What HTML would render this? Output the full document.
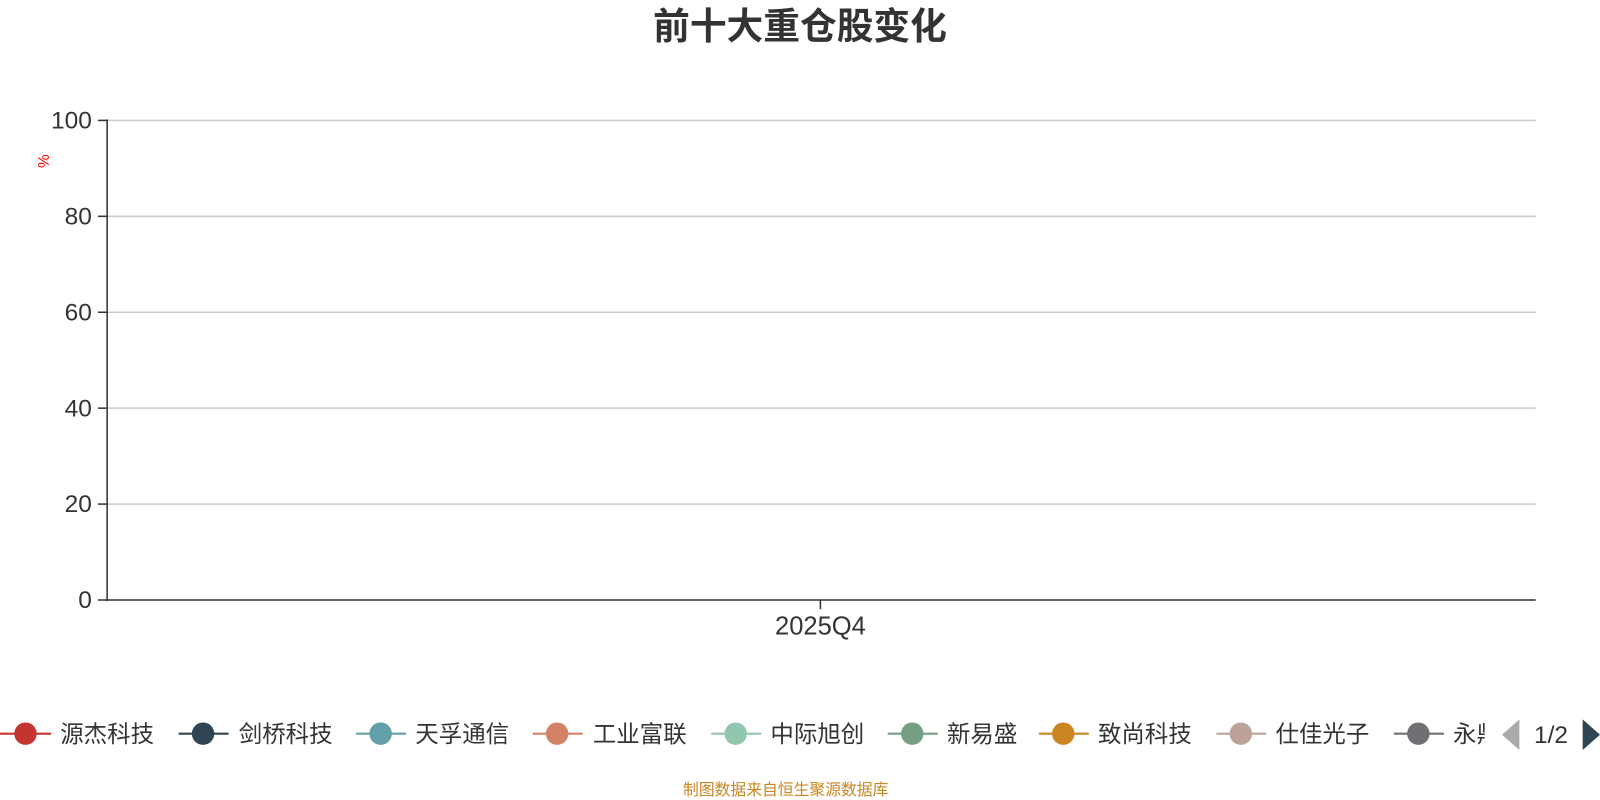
<!DOCTYPE html>
<html><head><meta charset="utf-8"><style>
html,body{margin:0;padding:0;background:#fff;width:1600px;height:800px;overflow:hidden}
svg{display:block}
svg text{font-family:"Liberation Sans","Noto Sans CJK SC",sans-serif}
</style></head><body>
<svg width="1600" height="800" viewBox="0 0 1568 784" xmlns="http://www.w3.org/2000/svg">
<text x="784" y="38" font-size="36" font-weight="bold" fill="#333" text-anchor="middle">前十大重仓股变化</text>
<g stroke="#ccc" stroke-width="1.5">
<line x1="105" y1="118" x2="1505" y2="118"/>
<line x1="105" y1="212" x2="1505" y2="212"/>
<line x1="105" y1="306" x2="1505" y2="306"/>
<line x1="105" y1="400" x2="1505" y2="400"/>
<line x1="105" y1="494" x2="1505" y2="494"/>
</g>
<g stroke="#333" stroke-width="1.5">
<line x1="105" y1="117" x2="105" y2="589"/>
<line x1="104" y1="588" x2="1505" y2="588"/>
<line x1="96" y1="118" x2="105" y2="118"/>
<line x1="96" y1="212" x2="105" y2="212"/>
<line x1="96" y1="306" x2="105" y2="306"/>
<line x1="96" y1="400" x2="105" y2="400"/>
<line x1="96" y1="494" x2="105" y2="494"/>
<line x1="96" y1="588" x2="105" y2="588"/>
<line x1="804" y1="588" x2="804" y2="597"/>
</g>
<g font-size="24" fill="#333" text-anchor="end">
<text x="90" y="126">100</text>
<text x="90" y="220">80</text>
<text x="90" y="314">60</text>
<text x="90" y="408">40</text>
<text x="90" y="502">20</text>
<text x="90" y="596">0</text>
</g>
<text x="0" y="0" font-size="15" fill="red" transform="translate(48,158) rotate(-90)" text-anchor="middle">%</text>
<text x="804" y="622" font-size="25" fill="#333" text-anchor="middle">2025Q4</text>
<defs><clipPath id="c"><rect x="0" y="690" width="1455" height="60"/></clipPath></defs>
<g clip-path="url(#c)" font-size="23" fill="#333">
<g><line x1="0" y1="719" x2="50" y2="719" stroke="#c23531" stroke-width="2"/><circle cx="25" cy="719" r="11" fill="#c23531"/><text x="59" y="727">源杰科技</text></g>
<g><line x1="175" y1="719" x2="224" y2="719" stroke="#2f4554" stroke-width="2"/><circle cx="199" cy="719" r="11" fill="#2f4554"/><text x="234" y="727">剑桥科技</text></g>
<g><line x1="349" y1="719" x2="398" y2="719" stroke="#61a0a8" stroke-width="2"/><circle cx="373" cy="719" r="11" fill="#61a0a8"/><text x="407" y="727">天孚通信</text></g>
<g><line x1="522" y1="719" x2="571" y2="719" stroke="#d48265" stroke-width="2"/><circle cx="546" cy="719" r="11" fill="#d48265"/><text x="581" y="727">工业富联</text></g>
<g><line x1="697" y1="719" x2="746" y2="719" stroke="#91c7ae" stroke-width="2"/><circle cx="721" cy="719" r="11" fill="#91c7ae"/><text x="755" y="727">中际旭创</text></g>
<g><line x1="870" y1="719" x2="919" y2="719" stroke="#749f83" stroke-width="2"/><circle cx="894" cy="719" r="11" fill="#749f83"/><text x="928" y="727">新易盛</text></g>
<g><line x1="1018" y1="719" x2="1067" y2="719" stroke="#ca8622" stroke-width="2"/><circle cx="1042" cy="719" r="11" fill="#ca8622"/><text x="1076" y="727">致尚科技</text></g>
<g><line x1="1192" y1="719" x2="1241" y2="719" stroke="#bda29a" stroke-width="2"/><circle cx="1216" cy="719" r="11" fill="#bda29a"/><text x="1250" y="727">仕佳光子</text></g>
<g><line x1="1366" y1="719" x2="1415" y2="719" stroke="#6e7074" stroke-width="2"/><circle cx="1390" cy="719" r="11" fill="#6e7074"/><text x="1424" y="727">永鼎股份</text></g>
</g>
<polygon points="1489,705 1489,735 1472,720" fill="#aaa"/>
<text x="1520" y="728" font-size="24" fill="#333" text-anchor="middle">1/2</text>
<polygon points="1551,705 1551,735 1568,720" fill="#2f4554"/>
<text x="770" y="779" font-size="15.5" fill="#ca8622" text-anchor="middle">制图数据来自恒生聚源数据库</text>
</svg>
</body></html>
